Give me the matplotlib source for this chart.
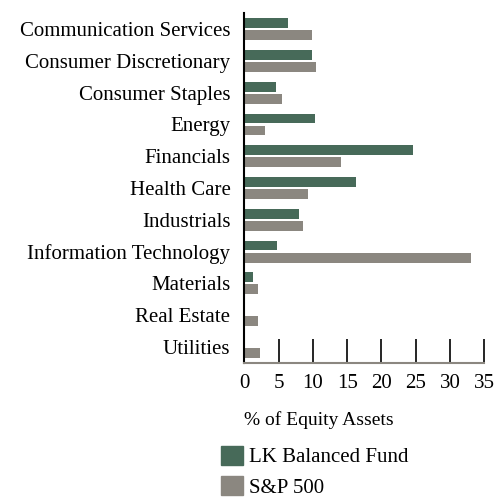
import matplotlib
matplotlib.use("Agg")
import numpy as np
import matplotlib.pyplot as plt
from matplotlib.patches import Patch

plt.rcParams["font.family"] = ["Liberation Serif", "DejaVu Serif"]

SECTORS = [
    "Communication Services", "Consumer Discretionary", "Consumer Staples",
    "Energy", "Financials", "Health Care", "Industrials",
    "Information Technology", "Materials", "Real Estate", "Utilities",
]
FUND = [6.4, 9.9, 4.6, 10.3, 24.6, 16.3, 8.0, 4.8, 1.3, 0.0, 0.0]
SP500 = [9.9, 10.5, 5.5, 3.0, 14.1, 9.3, 8.6, 33.1, 2.0, 2.0, 2.3]
XTICKS = [0, 5, 10, 15, 20, 25, 30, 35]

C_FUND = "#476A59"
C_SP = "#8B8780"

fig = plt.figure(figsize=(4.96, 4.99), dpi=100)
ax = fig.add_axes([0.4925, 0.2731, 0.4839, 0.7002])

y = np.arange(len(SECTORS))
h = 0.31
ax.barh(y - 0.19, FUND, height=h, color=C_FUND)
ax.barh(y + 0.19, SP500, height=h, color=C_SP)

ax.set_ylim(len(SECTORS) - 0.5, -0.5)
ax.set_xlim(0, 35)
ax.set_yticks(y)
ax.set_yticklabels(SECTORS, fontsize=15)
ax.tick_params(axis="y", length=0, pad=10)
ax.set_xticks(XTICKS)
ax.set_xticklabels([str(t) for t in XTICKS], fontsize=15)
ax.tick_params(axis="x", direction="in", length=17, width=1.2, color="black", pad=8)

for s in ("top", "right"):
    ax.spines[s].set_visible(False)
ax.spines["left"].set_color("black")
ax.spines["left"].set_linewidth(1.5)
ax.spines["bottom"].set_color("#8B8780")
ax.spines["bottom"].set_linewidth(1.5)

ax.set_xlabel("% of Equity Assets", fontsize=14, loc="left", labelpad=13)

handles = [Patch(color=C_FUND, label="LK Balanced Fund"),
           Patch(color=C_SP, label="S&P 500")]
fig.legend(handles=handles, loc="upper left", bbox_to_anchor=(0.445, 0.107),
           frameon=False, fontsize=15, handlelength=1.05, handleheight=1.05,
           handletextpad=0.3, labelspacing=0.42, borderaxespad=0, borderpad=0)

fig.savefig("out.png", dpi=100)
